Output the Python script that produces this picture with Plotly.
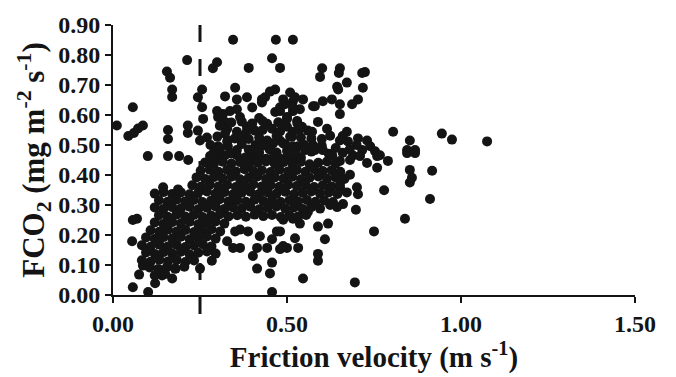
import plotly.graph_objects as go

# ---- data: (friction velocity [m s-1], FCO2 [mg m-2 s-1]) ----
pts_top = [
    (0.345, 0.851), (0.468, 0.851), (0.517, 0.851),
    (0.213, 0.783), (0.299, 0.776), (0.287, 0.756), (0.39, 0.757), (0.457, 0.789), (0.48, 0.757),
    (0.155, 0.745), (0.164, 0.724), (0.17, 0.685), (0.17, 0.66),
    (0.057, 0.626), (0.011, 0.565),
    (0.044, 0.53), (0.06, 0.54), (0.072, 0.555), (0.086, 0.565),
    (0.158, 0.55), (0.158, 0.52), (0.215, 0.565), (0.215, 0.54),
    (0.10, 0.463), (0.158, 0.463), (0.19, 0.463), (0.216, 0.45),
    (0.256, 0.685), (0.244, 0.659), (0.256, 0.626), (0.259, 0.587), (0.244, 0.548), (0.25, 0.515),
]

pts_upper = [
    (0.322, 0.662), (0.351, 0.691), (0.356, 0.652), (0.385, 0.659), (0.428, 0.642), (0.437, 0.659),
    (0.451, 0.678), (0.466, 0.685), (0.509, 0.675), (0.517, 0.646), (0.494, 0.636),
    (0.299, 0.613), (0.302, 0.593), (0.316, 0.603), (0.336, 0.613), (0.356, 0.619), (0.365, 0.593),
    (0.322, 0.577), (0.328, 0.554), (0.356, 0.544), (0.385, 0.561), (0.408, 0.548), (0.443, 0.571),
    (0.457, 0.554), (0.466, 0.61), (0.48, 0.613), (0.5, 0.593), (0.517, 0.613), (0.494, 0.564),
    (0.517, 0.544), (0.443, 0.515), (0.46, 0.505), (0.48, 0.515), (0.514, 0.528), (0.33, 0.515),
    (0.302, 0.496), (0.356, 0.483), (0.532, 0.496), (0.307, 0.564), (0.322, 0.538), (0.328, 0.512),
    (0.307, 0.489), (0.322, 0.466), (0.299, 0.463), (0.279, 0.463), (0.356, 0.466),
    (0.41, 0.50), (0.39, 0.52), (0.42, 0.475), (0.39, 0.485), (0.45, 0.485), (0.47, 0.475),
    (0.50, 0.48), (0.42, 0.59), (0.40, 0.625),
    (0.38, 0.458), (0.40, 0.455), (0.42, 0.459), (0.44, 0.454), (0.46, 0.458), (0.48, 0.455),
    (0.50, 0.459), (0.52, 0.454), (0.54, 0.458),
    (0.34, 0.575), (0.37, 0.578), (0.40, 0.572), (0.43, 0.58), (0.475, 0.576), (0.53, 0.572),
    (0.385, 0.548), (0.43, 0.55), (0.48, 0.545), (0.535, 0.552), (0.56, 0.548),
    (0.27, 0.525), (0.30, 0.528), (0.35, 0.522), (0.37, 0.53), (0.42, 0.525), (0.47, 0.53),
    (0.54, 0.525), (0.57, 0.522),
    (0.28, 0.50), (0.33, 0.496), (0.37, 0.503), (0.43, 0.498), (0.495, 0.502), (0.55, 0.50),
    (0.60, 0.497),
    (0.29, 0.476), (0.34, 0.472), (0.40, 0.478), (0.525, 0.474), (0.57, 0.478), (0.62, 0.471),
    (0.66, 0.474),
]

pts_right_upper = [
    (0.601, 0.756), (0.595, 0.727), (0.652, 0.756), (0.649, 0.74), (0.724, 0.743), (0.716, 0.74),
    (0.672, 0.708), (0.644, 0.694), (0.647, 0.685), (0.718, 0.691), (0.704, 0.652), (0.687, 0.636),
    (0.629, 0.652), (0.603, 0.646), (0.575, 0.629), (0.652, 0.636), (0.652, 0.603), (0.489, 0.652),
    (0.523, 0.659), (0.546, 0.652), (0.48, 0.626), (0.517, 0.626), (0.537, 0.619), (0.5, 0.587),
    (0.529, 0.58), (0.589, 0.577), (0.543, 0.561), (0.5, 0.561), (0.572, 0.544), (0.615, 0.554),
    (0.624, 0.531), (0.672, 0.544), (0.652, 0.515), (0.675, 0.512), (0.704, 0.522), (0.73, 0.515),
    (0.716, 0.483), (0.753, 0.479), (0.805, 0.544), (0.853, 0.515), (0.845, 0.483), (0.868, 0.483),
    (0.945, 0.538), (0.974, 0.518), (1.075, 0.512), (0.509, 0.528), (0.517, 0.496), (0.575, 0.499),
    (0.58, 0.483), (0.603, 0.483), (0.552, 0.483), (0.489, 0.505), (0.428, 0.652), (0.58, 0.629),
    (0.767, 0.466), (0.79, 0.447), (0.739, 0.496),
    (0.60, 0.52), (0.64, 0.49), (0.68, 0.485), (0.70, 0.50), (0.66, 0.53), (0.63, 0.465),
    (0.69, 0.465),
]

pts_right_mid = [
    (0.759, 0.463), (0.73, 0.44), (0.71, 0.463), (0.681, 0.45), (0.652, 0.447), (0.759, 0.424),
    (0.681, 0.401), (0.845, 0.473), (0.868, 0.473), (0.853, 0.417), (0.859, 0.391), (0.853, 0.375),
    (0.917, 0.414), (0.911, 0.32), (0.839, 0.254), (0.779, 0.349), (0.75, 0.212), (0.698, 0.284),
    (0.704, 0.336), (0.701, 0.359), (0.672, 0.342), (0.652, 0.359), (0.661, 0.303), (0.644, 0.293),
    (0.624, 0.3), (0.618, 0.238), (0.589, 0.228), (0.609, 0.186), (0.589, 0.137), (0.589, 0.114),
    (0.546, 0.055), (0.695, 0.042), (0.523, 0.189), (0.532, 0.157), (0.5, 0.157), (0.48, 0.153),
    (0.48, 0.212), (0.56, 0.277), (0.537, 0.238), (0.517, 0.254), (0.489, 0.251),
    (0.422, 0.196), (0.471, 0.212), (0.457, 0.186), (0.489, 0.163), (0.443, 0.157), (0.414, 0.157),
    (0.402, 0.13), (0.365, 0.157), (0.365, 0.218), (0.457, 0.108), (0.414, 0.088), (0.451, 0.072),
    (0.457, 0.01), (0.351, 0.212), (0.388, 0.212), (0.328, 0.179), (0.345, 0.157), (0.284, 0.114),
    (0.25, 0.088),
]

pts_low_left = [
    (0.057, 0.25), (0.069, 0.254), (0.055, 0.179), (0.144, 0.359), (0.187, 0.352),
    (0.075, 0.068), (0.086, 0.098), (0.121, 0.039), (0.141, 0.065), (0.17, 0.055), (0.178, 0.088),
    (0.057, 0.026), (0.101, 0.01), (0.12, 0.065), (0.15, 0.07),
]

pts_core = [
    (0.265, 0.442), (0.29, 0.437), (0.315, 0.444), (0.34, 0.438), (0.365, 0.443), (0.39, 0.436),
    (0.415, 0.441), (0.44, 0.445), (0.465, 0.437), (0.49, 0.443), (0.515, 0.438), (0.54, 0.444),
    (0.565, 0.436), (0.59, 0.441), (0.615, 0.445), (0.64, 0.438),
    (0.252, 0.414), (0.278, 0.418), (0.303, 0.411), (0.328, 0.417), (0.353, 0.412), (0.378, 0.419),
    (0.403, 0.413), (0.428, 0.416), (0.453, 0.41), (0.478, 0.418), (0.503, 0.412), (0.528, 0.417),
    (0.553, 0.411), (0.578, 0.419), (0.603, 0.413), (0.628, 0.416), (0.653, 0.411),
    (0.24, 0.392), (0.265, 0.387), (0.29, 0.393), (0.315, 0.388), (0.34, 0.394), (0.365, 0.386),
    (0.39, 0.391), (0.415, 0.395), (0.44, 0.387), (0.465, 0.392), (0.49, 0.388), (0.515, 0.394),
    (0.54, 0.386), (0.565, 0.391), (0.59, 0.395), (0.615, 0.388), (0.64, 0.392), (0.665, 0.387),
    (0.228, 0.366), (0.252, 0.361), (0.278, 0.368), (0.303, 0.362), (0.328, 0.367), (0.353, 0.36),
    (0.378, 0.365), (0.403, 0.369), (0.428, 0.362), (0.453, 0.366), (0.478, 0.361), (0.503, 0.368),
    (0.528, 0.363), (0.553, 0.367), (0.578, 0.36), (0.603, 0.366), (0.628, 0.362), (0.652, 0.367),
    (0.12, 0.338), (0.145, 0.343), (0.17, 0.337), (0.195, 0.342), (0.22, 0.336), (0.245, 0.341),
    (0.27, 0.345), (0.295, 0.338), (0.32, 0.343), (0.345, 0.336), (0.37, 0.341), (0.395, 0.344),
    (0.42, 0.337), (0.445, 0.342), (0.47, 0.338), (0.495, 0.344), (0.52, 0.336), (0.545, 0.341),
    (0.57, 0.345), (0.595, 0.338), (0.62, 0.342), (0.645, 0.337),
    (0.132, 0.316), (0.157, 0.311), (0.182, 0.318), (0.207, 0.312), (0.232, 0.317), (0.257, 0.31),
    (0.282, 0.315), (0.307, 0.319), (0.332, 0.312), (0.357, 0.316), (0.382, 0.311), (0.407, 0.318),
    (0.432, 0.313), (0.457, 0.317), (0.482, 0.31), (0.507, 0.316), (0.532, 0.312), (0.557, 0.317),
    (0.582, 0.311), (0.607, 0.315), (0.632, 0.31),
    (0.12, 0.292), (0.145, 0.287), (0.17, 0.293), (0.195, 0.288), (0.22, 0.294), (0.245, 0.286),
    (0.27, 0.291), (0.295, 0.295), (0.32, 0.287), (0.345, 0.292), (0.37, 0.288), (0.395, 0.294),
    (0.42, 0.286), (0.445, 0.291), (0.47, 0.295), (0.495, 0.288), (0.52, 0.292), (0.545, 0.287),
    (0.57, 0.293), (0.595, 0.288),
    (0.132, 0.266), (0.157, 0.261), (0.182, 0.268), (0.207, 0.262), (0.232, 0.267), (0.257, 0.26),
    (0.282, 0.265), (0.307, 0.269), (0.332, 0.262), (0.357, 0.266), (0.382, 0.261), (0.407, 0.268),
    (0.432, 0.263), (0.457, 0.267), (0.482, 0.26), (0.507, 0.266), (0.532, 0.262), (0.555, 0.267),
    (0.12, 0.242), (0.145, 0.237), (0.17, 0.243), (0.195, 0.238), (0.22, 0.244), (0.245, 0.236),
    (0.27, 0.241), (0.295, 0.245), (0.32, 0.238),
    (0.108, 0.216), (0.133, 0.211), (0.158, 0.218), (0.183, 0.212), (0.208, 0.217), (0.233, 0.21),
    (0.258, 0.215), (0.283, 0.219), (0.308, 0.212),
    (0.095, 0.192), (0.12, 0.187), (0.145, 0.193), (0.17, 0.188), (0.195, 0.194), (0.22, 0.186),
    (0.245, 0.191), (0.27, 0.195), (0.295, 0.188),
    (0.083, 0.166), (0.108, 0.161), (0.133, 0.168), (0.158, 0.162), (0.183, 0.167), (0.208, 0.16),
    (0.233, 0.165), (0.258, 0.169), (0.283, 0.162),
    (0.095, 0.142), (0.12, 0.137), (0.145, 0.143), (0.17, 0.138), (0.195, 0.144), (0.22, 0.136),
    (0.245, 0.141), (0.27, 0.145), (0.295, 0.138),
    (0.083, 0.116), (0.108, 0.111), (0.133, 0.118), (0.158, 0.112), (0.183, 0.117), (0.208, 0.11),
    (0.233, 0.115),
    (0.105, 0.092), (0.13, 0.087), (0.155, 0.093), (0.18, 0.088), (0.205, 0.094),
]

x_ticks = [0.0, 0.5, 1.0, 1.5]
x_tick_labels = ["0.00", "0.50", "1.00", "1.50"]
y_ticks = [0.0, 0.1, 0.2, 0.3, 0.4, 0.5, 0.6, 0.7, 0.8, 0.9]
y_tick_labels = ["0.00", "0.10", "0.20", "0.30", "0.40", "0.50", "0.60", "0.70", "0.80", "0.90"]
u_star_threshold = 0.25

all_pts = pts_top + pts_upper + pts_right_upper + pts_right_mid + pts_low_left + pts_core
u_star = [p[0] for p in all_pts]
fco2 = [p[1] for p in all_pts]

FONT = "Liberation Serif"
INK = "#141414"

fig = go.Figure()
fig.add_trace(go.Scatter(
    x=u_star, y=fco2, mode="markers",
    marker=dict(size=10, color=INK, line=dict(width=0)),
    cliponaxis=False, showlegend=False, hoverinfo="skip",
))

fig.add_shape(type="line", xref="x", yref="paper",
              x0=u_star_threshold, x1=u_star_threshold, y0=1.0, y1=-0.127,
              line=dict(color=INK, width=3, dash="17px,17px"), layer="above")

axis_common = dict(
    showline=True, linecolor=INK, linewidth=2,
    ticks="outside", ticklen=6, tickwidth=2, tickcolor=INK,
    showgrid=False, zeroline=False,
    tickfont=dict(family=FONT, size=24, color=INK, weight="bold"),
)

fig.update_layout(
    width=676, height=377,
    margin=dict(l=113, r=41, t=19, b=82),
    paper_bgcolor="white", plot_bgcolor="white",
    xaxis=dict(range=[0, 1.5], tickvals=x_ticks, ticktext=x_tick_labels,
               title=dict(text="Friction velocity (m s<sup>-1</sup>)",
                          font=dict(family=FONT, size=29, color=INK, weight="bold"),
                          standoff=4),
               **axis_common),
    yaxis=dict(range=[0, 0.9], tickvals=y_ticks, ticktext=y_tick_labels,
               title=dict(text="FCO<sub>2</sub> (mg m<sup>-2</sup> s<sup>-1</sup>)",
                          font=dict(family=FONT, size=31, color=INK, weight="bold"),
                          standoff=4),
               **axis_common),
)

fig.write_html("out.html")
